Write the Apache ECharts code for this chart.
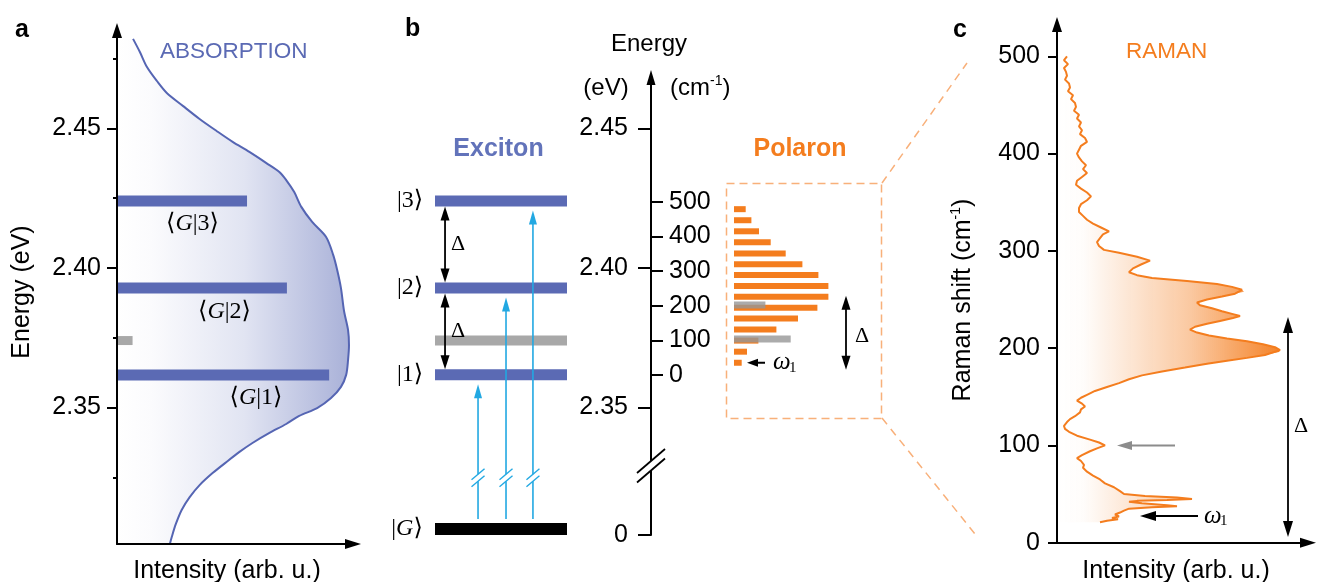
<!DOCTYPE html>
<html><head><meta charset="utf-8">
<script src="https://cdn.jsdelivr.net/npm/echarts@6/dist/echarts.min.js"></script>
<style>html,body{margin:0;padding:0;background:#fff}#c{width:1317px;height:582px}</style>
</head><body><div id="c"></div>
<script>
// ---------------- data ----------------
const levelNames = ['1', '2', '3'];
const levelEnergies = [2.3617, 2.3928, 2.4240];        // eV, exciton levels |1>,|2>,|3>
const darkLevelEnergy = 2.3740;                         // eV, grey (dark) level
const overlapWeights = [89.9, 72.0, 55.1];              // <G|n> bar lengths (arb. u.)
const darkWeight = 6.6;

const absorptionEnergy = [2.4821,2.4774,2.4720,2.4670,2.4627,2.4581,2.4534,2.4491,2.4452,2.4416,2.4376,2.4344,2.4315,2.4272,2.4219,2.4165,2.4111,2.4047,2.3993,2.3928,2.3846,2.3778,2.3724,2.3670,2.3617,2.3574,2.3534,2.3498,2.3470,2.3441,2.3409,2.3373,2.3341,2.3305,2.3265,2.3222,2.3179,2.3133,2.3082,2.3036,2.3011];
const absorptionIntensity = [6.8,9.7,12.7,16.9,21.1,27.9,35.0,42.2,49.0,56.1,63.3,68.8,71.7,75.1,78.1,82.7,88.6,91.6,93.3,94.9,96.2,97.9,98.3,97.9,97.1,94.9,90.7,84.8,77.2,71.7,64.6,57.4,51.9,46.4,40.5,35.0,30.8,27.4,24.9,23.2,22.4];

const polaronShift = [35, 67, 99, 131, 163, 194, 226, 257, 289, 320, 351, 383, 415, 447, 479];   // cm-1
const polaronWeight = [7.7, 13, 24.4, 42.4, 64, 83.4, 94.4, 94.4, 84.4, 68.4, 51.7, 36.7, 25, 17.4, 11.7];
const greyShift = [104, 202];
const greyWeight = [56.7, 31.4];

const ramanShift = [500,496,492,488,484,480,476,472,468,464,460,456,452,448,444,440,436,432,428,424,420,416,412,408,404,400,396,392,388,384,380,376,372,368,364,360,356,352,348,344,340,336,332,328,324,320,317,313,309,305,301,298,294,290,286,282,278,275,272,269,266,263,260,258,256,253,250,247,244,241,238,235,233,231,228,225,222,219,216,213,210,207,204,201,198,196,193,190,187,184,180,176,172,168,164,160,156,152,149,146,143,140,137,134,130,127,124,120,117,114,110,106,103,100,97,94,90,87,84,80,77,73,69,65,61,57,53,50,48,46.5,45,44,43,42,40.5,38.5,37.5,36.5,35,33,31,29,27,25.5,24,22.5,21];
const ramanIntensity = [10,7,11,7,9,10,8,12,13,11,16,14,18,19,17,22,20,24,22,25,23,28,30,24,22,20,22,25,29,26,30,25,20,19,24,30,34,30,24,22,22,26,30,36,44,52,46,43,40,42,47,62,80,93,84,76,72,80,95,130,160,175,185,187,178,165,150,140,143,155,165,176,183,176,163,150,138,133,140,152,170,190,206,218,223,222,208,190,170,150,128,105,85,72,62,50,38,30,24,20,25,28,24,23,18,13,10,7,8,12,20,33,42,48,40,33,25,20,24,27,26,30,36,43,48,57,63,67,88,120,135,110,80,72,85,110,120,95,72,67,63,58,62,55,61,50,43];

const eVTicks = [2.35, 2.40, 2.45];
const eVMinorTicks = [2.325, 2.375, 2.425, 2.475];
const cmTicks = [0, 100, 200, 300, 400, 500];
const ramanTicks = [0, 100, 200, 300, 400, 500];
const groundTicks = [0];

// ---------------- layout / style ----------------
const FONT = "'Liberation Sans', Arial, Helvetica, sans-serif";
const SERIF = "'Liberation Serif', 'DejaVu Serif', serif";
const BLUE = '#5b6ab4', ABS_LINE = '#5565b3', EXC_TEXT = '#6273ba';
const ORANGE = '#f47d1e', CYAN = '#22a8e2', GREY = '#a8a8a8';

const A_EMIN = 2.3011, A_EMAX = 2.4851;
const B_EMIN = 2.32903, B_EMAX = 2.46828;
const EV_PER_CM = 1.2398e-4;
const E_REF = levelEnergies[0];
const B_CMMIN = (B_EMIN - E_REF) / EV_PER_CM, B_CMMAX = (B_EMAX - E_REF) / EV_PER_CM;
const C_MAX = 532.7;

function arrow(p1, p2, o) {
  const dx = p2[0] - p1[0], dy = p2[1] - p1[1], L = Math.hypot(dx, dy), ux = dx / L, uy = dy / L;
  const hl = o.hl || 12, hw = o.hw || 8, col = o.color || '#000';
  const s = o.both ? [p1[0] + ux * hl * 0.7, p1[1] + uy * hl * 0.7] : p1;
  const e = [p2[0] - ux * hl * 0.7, p2[1] - uy * hl * 0.7];
  const els = [{type: 'line', shape: {x1: s[0], y1: s[1], x2: e[0], y2: e[1]}, style: {stroke: col, lineWidth: o.lw || 1.5}}];
  const head = (tip, d) => {
    const bx = tip[0] - d[0] * hl, by = tip[1] - d[1] * hl;
    return {type: 'polygon', shape: {points: [tip, [bx - d[1] * hw / 2, by + d[0] * hw / 2], [bx + d[1] * hw / 2, by - d[0] * hw / 2]]}, style: {fill: col}};
  };
  els.push(head(p2, [ux, uy]));
  if (o.both) els.push(head(p1, [-ux, -uy]));
  return els;
}
function omega(x, y) {
  return [
    {type: 'text', style: {text: 'ω', x: x, y: y, fontFamily: SERIF, fontStyle: 'italic', fontSize: 25, fill: '#000', align: 'left', verticalAlign: 'middle'}},
    {type: 'text', style: {text: '1', x: x + 16, y: y + 5, fontFamily: SERIF, fontSize: 15, fill: '#000', align: 'left', verticalAlign: 'middle'}}
  ];
}

const axLine = (arrowOn, size) => ({show: true, onZero: false, symbol: arrowOn ? ['none', 'triangle'] : ['none', 'none'], symbolSize: size || [10, 15], symbolOffset: [0, 0], lineStyle: {color: '#000', width: 2}});
const tick = (vals, len, inside) => ({show: true, customValues: vals, length: len, inside: !!inside, lineStyle: {color: '#000', width: 2}});
const label = (vals, margin, fmt, inside) => ({show: true, customValues: vals, margin: margin, inside: !!inside, formatter: fmt, fontSize: 25, color: '#000', fontFamily: FONT});
const hidden = (g, min, max) => ({type: 'value', gridIndex: g, min: min, max: max, show: false});
const fmt2 = v => Number(v).toFixed(2);
const fmt0 = v => String(Math.round(v));
const braket = n => '{r|⟨}{i|G}{r||' + n + '⟩}';
const braRich = {r: {fontFamily: SERIF, fontSize: 24, fill: '#000'}, i: {fontFamily: SERIF, fontStyle: 'italic', fontSize: 24, fill: '#000'}};

const chart = echarts.init(document.getElementById('c'));

const option = {
  animation: false,
  textStyle: {fontFamily: FONT},
  grid: [
    {left: 117, top: 30.5, width: 236, height: 513.5},
    {left: 651, top: 77.5, width: 1, height: 388.5},
    {left: 435, top: 77.5, width: 132, height: 388.5},
    {left: 734, top: 77.5, width: 100, height: 388.5},
    {left: 651, top: 466, width: 1, height: 69},
    {left: 435, top: 466, width: 132, height: 69},
    {left: 1057, top: 24.5, width: 251, height: 518.2}
  ],
  xAxis: [
    {type: 'value', gridIndex: 0, min: 0, max: 100, z: 5, axisLine: axLine(true, [10, 16]), axisTick: {show: false}, axisLabel: {show: false}, splitLine: {show: false}},
    hidden(1, 0, 1),
    hidden(2, 0, 1),
    hidden(3, 0, 100),
    hidden(4, 0, 1),
    hidden(5, 0, 1),
    {type: 'value', gridIndex: 6, min: 0, max: 251, z: 5, axisLine: axLine(true, [10, 16]), axisTick: {show: false}, axisLabel: {show: false}, splitLine: {show: false}}
  ],
  yAxis: [
    {type: 'value', gridIndex: 0, min: A_EMIN, max: A_EMAX, position: 'left', z: 5, axisLine: axLine(true, [10, 15]), axisTick: tick(eVTicks, 10), axisLabel: label(eVTicks, 16, fmt2), splitLine: {show: false}},
    {type: 'value', gridIndex: 0, min: A_EMIN, max: A_EMAX, position: 'left', z: 5, axisLine: {show: false}, axisTick: tick(eVMinorTicks, 4), axisLabel: {show: false}, splitLine: {show: false}},
    {type: 'value', gridIndex: 1, min: B_EMIN, max: B_EMAX, position: 'left', z: 5, axisLine: axLine(true, [9, 15]), axisTick: tick(eVTicks, 13), axisLabel: label(eVTicks, 23, fmt2), splitLine: {show: false}},
    {type: 'value', gridIndex: 1, min: B_CMMIN, max: B_CMMAX, position: 'left', z: 5, axisLine: {show: false}, axisTick: tick(cmTicks, 12, true), axisLabel: label(cmTicks, 18, fmt0, true), splitLine: {show: false}},
    hidden(2, B_EMIN, B_EMAX),
    hidden(3, B_CMMIN, B_CMMAX),
    {type: 'value', gridIndex: 4, min: 0, max: 1, position: 'left', z: 5, axisLine: axLine(false), axisTick: tick(groundTicks, 13), axisLabel: label(groundTicks, 23, fmt0), splitLine: {show: false}},
    hidden(5, 0, 1),
    {type: 'value', gridIndex: 6, min: 0, max: C_MAX, position: 'left', z: 5, axisLine: axLine(true, [10, 15]), axisTick: tick(ramanTicks, 9), axisLabel: label(ramanTicks, 17, fmt0), splitLine: {show: false}}
  ],
  series: [
    {type: 'custom', xAxisIndex: 0, yAxisIndex: 0, z: 1, clip: false, data: [[0, A_EMIN]],
     renderItem: (p, api) => {
       const pts = absorptionEnergy.map((e, i) => api.coord([absorptionIntensity[i], e]));
       pts.push(api.coord([0, absorptionEnergy[absorptionEnergy.length - 1]]));
       pts.push(api.coord([0, absorptionEnergy[0]]));
       return {type: 'polygon', shape: {points: pts}, style: {fill: new echarts.graphic.LinearGradient(0, 0, 1, 0, [
         {offset: 0, color: '#ffffff'}, {offset: 0.15, color: '#fbfbfd'}, {offset: 0.55, color: '#e1e4f2'}, {offset: 1, color: '#a9b1d8'}])}};
     }},
    {type: 'line', xAxisIndex: 0, yAxisIndex: 0, z: 3, smooth: 0.3, symbol: 'none', clip: false,
     lineStyle: {color: ABS_LINE, width: 2},
     data: absorptionEnergy.map((e, i) => [absorptionIntensity[i], e])},
    {type: 'custom', xAxisIndex: 0, yAxisIndex: 0, z: 4, clip: false, data: [[0, A_EMIN]],
     renderItem: (p, api) => {
       const ch = [];
       const x0 = api.coord([0, A_EMIN])[0];
       const pg = api.coord([darkWeight, darkLevelEnergy]);
       ch.push({type: 'rect', shape: {x: x0, y: pg[1] - 4.5, width: pg[0] - x0, height: 9}, style: {fill: GREY}});
       levelEnergies.forEach((e, i) => {
         const q = api.coord([overlapWeights[i], e]);
         ch.push({type: 'rect', shape: {x: x0, y: q[1] - 5.5, width: q[0] - x0, height: 11}, style: {fill: BLUE}});
       });
       return {type: 'group', children: ch};
     }},
    {type: 'custom', xAxisIndex: 2, yAxisIndex: 4, z: 4, clip: false, data: [[0, B_EMIN]],
     renderItem: (p, api) => {
       const ch = [];
       const xL = api.coord([0, B_EMIN])[0], xR = api.coord([1, B_EMIN])[0], W = xR - xL;
       const yOf = e => api.coord([0, e])[1];
       ch.push({type: 'rect', shape: {x: xL, y: yOf(darkLevelEnergy) - 5, width: W, height: 10}, style: {fill: GREY}});
       levelEnergies.forEach((e, i) => {
         const y = yOf(e);
         ch.push({type: 'rect', shape: {x: xL, y: y - 5.5, width: W, height: 11}, style: {fill: BLUE}});
         ch.push({type: 'text', style: {text: '|' + levelNames[i] + '⟩', x: xL - 25, y: y, fontFamily: SERIF, fontSize: 24, fill: '#000', align: 'center', verticalAlign: 'middle'}});
       });
       const xD = xL + 0.076 * W;
       for (let i = levelEnergies.length - 1; i > 0; i--) {
         const yT = yOf(levelEnergies[i]) + 5.5, yB = yOf(levelEnergies[i - 1]) - 5.5;
         arrow([xD, yT], [xD, yB], {both: true, hl: 14, hw: 9, lw: 1.8}).forEach(el => ch.push(el));
         ch.push({type: 'text', style: {text: 'Δ', x: xD + 6, y: (yT + yB) / 2, fontFamily: SERIF, fontSize: 22, fill: '#000', align: 'left', verticalAlign: 'middle'}});
       }
       const yBot = yOf(B_EMIN);
       [0.326, 0.538, 0.742].forEach((f, i) => {
         arrow([xL + f * W, yBot], [xL + f * W, yOf(levelEnergies[i]) + 9.5], {hl: 14, hw: 8, lw: 1.6, color: CYAN}).forEach(el => ch.push(el));
       });
       return {type: 'group', children: ch};
     }},
    {type: 'custom', xAxisIndex: 5, yAxisIndex: 7, z: 4, clip: false, data: [[0, 0]],
     renderItem: (p, api) => {
       const ch = [];
       const xL = api.coord([0, 0])[0], xR = api.coord([1, 0])[0], W = xR - xL;
       const y0 = api.coord([0, 0])[1], yTop = api.coord([0, 1])[1], yb = api.coord([0, 0.83])[1];
       ch.push({type: 'rect', shape: {x: xL, y: y0 - 12, width: W, height: 12}, style: {fill: '#000'}});
       ch.push({type: 'text', style: {text: '{r||}{i|G}{r|⟩}', x: xL - 28, y: y0 - 6, align: 'center', verticalAlign: 'middle', rich: braRich}});
       [0.326, 0.538, 0.742].forEach(f => {
         const x = xL + f * W;
         ch.push({type: 'line', shape: {x1: x, y1: y0 - 16, x2: x, y2: yb + 3.5}, style: {stroke: CYAN, lineWidth: 1.6}});
         ch.push({type: 'line', shape: {x1: x, y1: yb - 3.5, x2: x, y2: yTop}, style: {stroke: CYAN, lineWidth: 1.6}});
         [-3.5, 3.5].forEach(d => ch.push({type: 'line', shape: {x1: x - 6.5, y1: yb + d + 5.5, x2: x + 6.5, y2: yb + d - 5.5}, style: {stroke: CYAN, lineWidth: 1.4}}));
       });
       return {type: 'group', children: ch};
     }},
    {type: 'custom', xAxisIndex: 4, yAxisIndex: 6, z: 10, clip: false, data: [[0, 1]],
     renderItem: (p, api) => {
       const q = api.coord([0, 1]);
       const x = q[0], yb = q[1];
       const a = yb - 5, b = yb + 4.5;
       return {type: 'group', children: [
         {type: 'polygon', shape: {points: [[x - 14, a + 12], [x + 14, a - 12], [x + 14, b - 12], [x - 14, b + 12]]}, style: {fill: '#fff'}},
         {type: 'line', shape: {x1: x - 14, y1: a + 12, x2: x + 14, y2: a - 12}, style: {stroke: '#000', lineWidth: 1.8}},
         {type: 'line', shape: {x1: x - 14, y1: b + 12, x2: x + 14, y2: b - 12}, style: {stroke: '#000', lineWidth: 1.8}}
       ]};
     }},
    {type: 'custom', xAxisIndex: 3, yAxisIndex: 5, z: 4, clip: false, data: [[0, 0]],
     renderItem: (p, api) => {
       const ch = [];
       const x0 = api.coord([0, 0])[0];
       polaronShift.forEach((s, i) => {
         const q = api.coord([polaronWeight[i], s]);
         ch.push({type: 'rect', shape: {x: x0, y: q[1] - 3, width: q[0] - x0, height: 6}, style: {fill: ORANGE}});
       });
       greyShift.forEach((s, i) => {
         const q = api.coord([greyWeight[i], s]);
         ch.push({type: 'rect', shape: {x: x0, y: q[1] - 3.5, width: q[0] - x0, height: 7}, style: {fill: 'rgba(150,150,150,0.8)'}});
       });
       const yw = api.coord([0, polaronShift[0]])[1];
       arrow([x0 + 31, yw], [x0 + 13, yw], {hl: 11, hw: 8, lw: 2}).forEach(el => ch.push(el));
       omega(x0 + 39, yw).forEach(el => ch.push(el));
       arrow(api.coord([112, 229]), api.coord([112, 14.5]), {both: true, hl: 14, hw: 9, lw: 1.8}).forEach(el => ch.push(el));
       const qd = api.coord([121, 113]);
       ch.push({type: 'text', style: {text: 'Δ', x: qd[0], y: qd[1], fontFamily: SERIF, fontSize: 22, fill: '#000', align: 'left', verticalAlign: 'middle'}});
       return {type: 'group', children: ch};
     }},
    {type: 'custom', xAxisIndex: 6, yAxisIndex: 8, z: 1, clip: false, data: [[0, 0]],
     renderItem: (p, api) => {
       const pts = ramanShift.map((s, i) => api.coord([ramanIntensity[i], s]));
       pts.push(api.coord([0, ramanShift[ramanShift.length - 1]]));
       pts.push(api.coord([0, ramanShift[0]]));
       return {type: 'polygon', shape: {points: pts}, style: {fill: new echarts.graphic.LinearGradient(0, 0, 1, 0, [
         {offset: 0, color: 'rgba(244,125,30,0)'}, {offset: 0.12, color: 'rgba(244,125,30,0.02)'},
         {offset: 0.6, color: 'rgba(244,125,30,0.42)'}, {offset: 1, color: 'rgba(244,125,30,0.95)'}])}};
     }},
    {type: 'line', xAxisIndex: 6, yAxisIndex: 8, z: 3, symbol: 'none', clip: false,
     lineStyle: {color: ORANGE, width: 2},
     data: ramanShift.map((s, i) => [ramanIntensity[i], s])},
    {type: 'custom', xAxisIndex: 6, yAxisIndex: 8, z: 4, clip: false, data: [[0, 0]],
     renderItem: (p, api) => {
       const ch = [];
       arrow(api.coord([231, 232]), api.coord([231, 5.9]), {both: true, hl: 16, hw: 10, lw: 1.8}).forEach(el => ch.push(el));
       const qd = api.coord([237, 120]);
       ch.push({type: 'text', style: {text: 'Δ', x: qd[0], y: qd[1], fontFamily: SERIF, fontSize: 22, fill: '#000', align: 'left', verticalAlign: 'middle'}});
       arrow(api.coord([118, 100]), api.coord([60, 100]), {hl: 15, hw: 9, lw: 2, color: '#8c8c8c'}).forEach(el => ch.push(el));
       arrow(api.coord([141, 27.4]), api.coord([83, 27.4]), {hl: 16, hw: 10, lw: 2}).forEach(el => ch.push(el));
       const qw = api.coord([147, 27.4]);
       omega(qw[0], qw[1]).forEach(el => ch.push(el));
       return {type: 'group', children: ch};
     }}
  ],
  graphic: {elements: [
    {type: 'text', z: 50, x: 15, y: 30, style: {text: 'a', fontFamily: FONT, fontWeight: 'bold', fontSize: 25, fill: '#000', align: 'left', verticalAlign: 'middle'}},
    {type: 'text', z: 50, x: 405, y: 29, style: {text: 'b', fontFamily: FONT, fontWeight: 'bold', fontSize: 25, fill: '#000', align: 'left', verticalAlign: 'middle'}},
    {type: 'text', z: 50, x: 953, y: 30, style: {text: 'c', fontFamily: FONT, fontWeight: 'bold', fontSize: 25, fill: '#000', align: 'left', verticalAlign: 'middle'}},
    {type: 'text', z: 50, x: 160, y: 52, style: {text: 'ABSORPTION', fontFamily: FONT, fontSize: 22.5, fill: BLUE, align: 'left', verticalAlign: 'middle'}},
    {type: 'text', z: 50, x: 22, y: 292, rotation: Math.PI / 2, style: {text: 'Energy (eV)', fontFamily: FONT, fontSize: 25, fill: '#000', align: 'center', verticalAlign: 'middle'}},
    {type: 'text', z: 50, x: 227, y: 571, style: {text: 'Intensity (arb. u.)', fontFamily: FONT, fontSize: 25, fill: '#000', align: 'center', verticalAlign: 'middle'}},
    {type: 'text', z: 50, x: 1176, y: 571, style: {text: 'Intensity (arb. u.)', fontFamily: FONT, fontSize: 25, fill: '#000', align: 'center', verticalAlign: 'middle'}},
    {type: 'text', z: 50, x: 963, y: 300, rotation: Math.PI / 2, style: {text: '{a|Raman shift (cm}{s|-1}{a|)}', align: 'center', verticalAlign: 'middle',
      rich: {a: {fontFamily: FONT, fontSize: 25, fill: '#000', lineHeight: 28}, s: {fontFamily: FONT, fontSize: 14, fill: '#000', verticalAlign: 'top', lineHeight: 28}}}},
    {type: 'text', z: 50, x: 1126, y: 52, style: {text: 'RAMAN', fontFamily: FONT, fontSize: 22.5, fill: ORANGE, align: 'left', verticalAlign: 'middle'}},
    {type: 'text', z: 50, x: 498.5, y: 149.5, style: {text: 'Exciton', fontFamily: FONT, fontWeight: 'bold', fontSize: 25, fill: EXC_TEXT, align: 'center', verticalAlign: 'middle'}},
    {type: 'text', z: 50, x: 800, y: 149, style: {text: 'Polaron', fontFamily: FONT, fontWeight: 'bold', fontSize: 25, fill: ORANGE, align: 'center', verticalAlign: 'middle'}},
    {type: 'text', z: 50, x: 649, y: 44, style: {text: 'Energy', fontFamily: FONT, fontSize: 24, fill: '#000', align: 'center', verticalAlign: 'middle'}},
    {type: 'text', z: 50, x: 606, y: 88, style: {text: '(eV)', fontFamily: FONT, fontSize: 24, fill: '#000', align: 'center', verticalAlign: 'middle'}},
    {type: 'text', z: 50, x: 670, y: 88, style: {text: '{a|(cm}{s|-1}{a|)}', align: 'left', verticalAlign: 'middle',
      rich: {a: {fontFamily: FONT, fontSize: 24, fill: '#000', lineHeight: 28}, s: {fontFamily: FONT, fontSize: 14, fill: '#000', verticalAlign: 'top', lineHeight: 28}}}},
    {type: 'text', z: 50, x: 192.5, y: 224, style: {text: braket(3), align: 'center', verticalAlign: 'middle', rich: braRich}},
    {type: 'text', z: 50, x: 224.5, y: 312, style: {text: braket(2), align: 'center', verticalAlign: 'middle', rich: braRich}},
    {type: 'text', z: 50, x: 256, y: 398, style: {text: braket(1), align: 'center', verticalAlign: 'middle', rich: braRich}},
    {type: 'rect', z: 50, shape: {x: 726.5, y: 183.5, width: 155, height: 235}, style: {fill: 'none', stroke: '#f8b07a', lineWidth: 1.5, lineDash: [8, 5]}},
    {type: 'line', z: 50, shape: {x1: 882, y1: 183, x2: 967, y2: 63}, style: {stroke: '#f8b07a', lineWidth: 1.5, lineDash: [8, 6]}},
    {type: 'line', z: 50, shape: {x1: 882, y1: 418, x2: 975, y2: 534}, style: {stroke: '#f8b07a', lineWidth: 1.5, lineDash: [8, 6]}}
  ]}
};
chart.setOption(option);
</script>
</body></html>
